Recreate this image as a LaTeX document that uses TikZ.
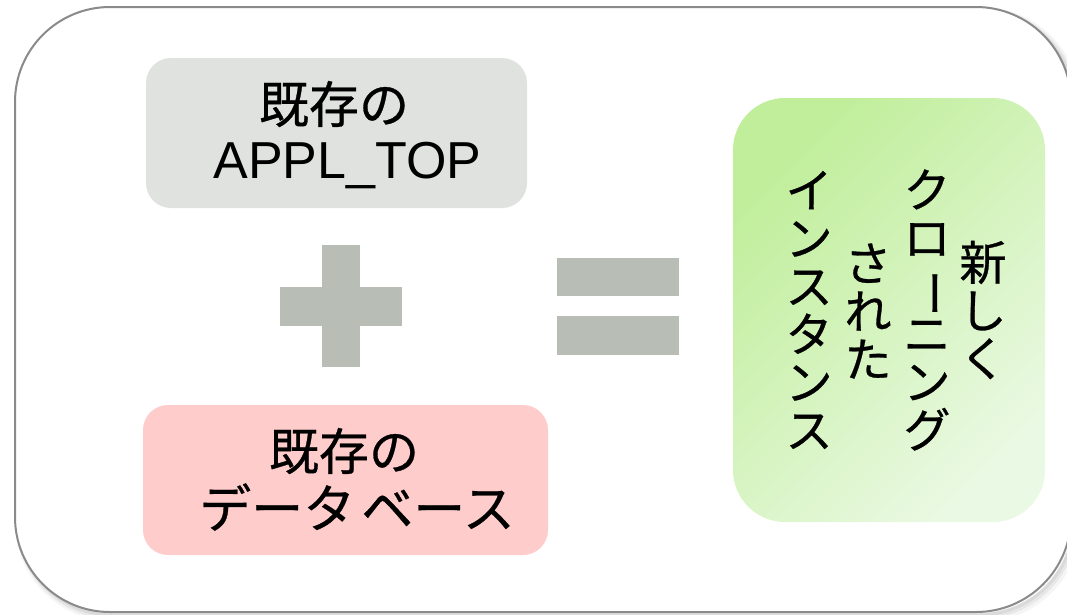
\documentclass[tikz,border=0pt]{standalone}
\usepackage{fontspec}
\setmainfont{Liberation Sans}
\newfontfamily\jp[FakeBold=0.6]{Noto Sans CJK JP}
\usepackage{graphicx}
\definecolor{frameline}{HTML}{8A8A8A}
\definecolor{grayfill}{HTML}{E0E2E0}
\definecolor{pinkfill}{HTML}{FFCCCC}
\definecolor{opfill}{HTML}{B8BDB6}
\definecolor{greenA}{HTML}{C0EE9A}
\definecolor{greenB}{HTML}{EAF9E3}
\newcommand{\vbar}{\rotatebox[origin=c]{-90}{ー}}
\begin{document}
\begin{tikzpicture}[x=1pt,y=-1pt,
  boxshape/.style={rounded corners=25pt, minimum width=#1, inner sep=0pt},
  jptext/.style={font=\jp\fontsize{50}{56}\selectfont, inner sep=0pt},
  latext/.style={font=\fontsize{52}{58}\selectfont, inner sep=0pt},
  vcol/.style={font=\jp\fontsize{47}{48}\selectfont, align=center, inner sep=0pt},
  opshape/.style={fill=opfill}]
\useasboundingbox (0,0) rectangle (1067,614);
\fill[white] (0,0) rectangle (1067,614);
% outer frame with soft shadow
\begin{scope}
\clip (0,0) rectangle (1067,614);
\draw[black, opacity=0.04, line width=10pt, rounded corners=95pt, shift={(5,5)}] (15,7) rectangle (1071,612);
\draw[black, opacity=0.05, line width=6pt, rounded corners=95pt, shift={(4,4)}] (15,7) rectangle (1071,612);
\draw[black, opacity=0.06, line width=3pt, rounded corners=95pt, shift={(3,3)}] (15,7) rectangle (1071,612);
\fill[white, rounded corners=95pt] (15,7) rectangle (1071,612);
\draw[frameline, line width=2pt, rounded corners=95pt] (15,7) rectangle (1071,612);
\end{scope}
% gray box
\node[boxshape=381pt, minimum height=150pt, fill=grayfill] (topbox) at (336.5,133) {};
\node[jptext] (toptextA) at (334,104) {既存の};
\node[latext, anchor=base] (toptextB) at (347.5,178) {APPL\_TOP};
% pink box
\node[boxshape=405pt, minimum height=150pt, fill=pinkfill] (dbbox) at (345.5,480) {};
\node[jptext] (dbtextA) at (344,451) {既存の};
\node[jptext, font=\jp\fontsize{52}{56}\selectfont] (dbtextB) at (357,507) {データ\hspace{6pt}ベース};
% plus
\fill[opshape] (280,287) rectangle (402,326);
\fill[opshape] (322,245) rectangle (360,367);
% equals
\fill[opshape] (557,258) rectangle (679,296);
\fill[opshape] (557,316) rectangle (679,355);
% green result box
\node[rounded corners=52pt, minimum width=312pt, minimum height=424pt, inner sep=0pt,
      top color=greenA, bottom color=greenB, shading angle=45] (newbox) at (889,310) {};
\node[vcol] (colA) at (983,310) {新\\し\\く};
\node[vcol] (colB) at (927,310) {ク\\ロ\\\vbar\\ニ\\ン\\グ};
\node[vcol] (colC) at (868,311) {さ\\れ\\た};
\node[vcol] (colD) at (809,310) {イ\\ン\\ス\\タ\\ン\\ス};
\end{tikzpicture}
\end{document}
